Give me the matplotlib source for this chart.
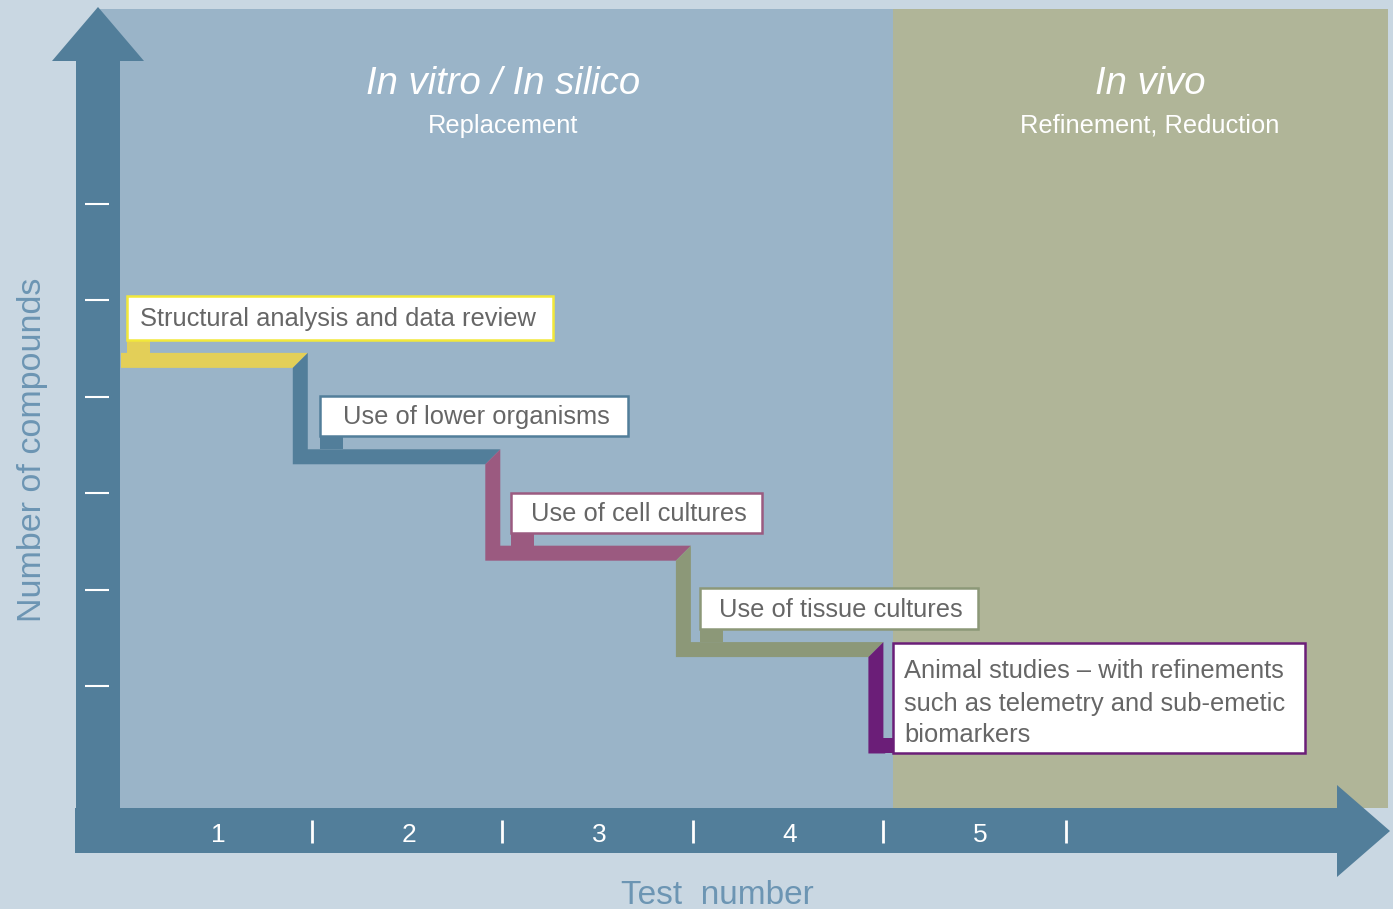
import matplotlib
matplotlib.use('Agg')
import matplotlib.pyplot as plt
from matplotlib.patches import Polygon, Rectangle

plt.rcParams['font.family'] = ['Liberation Sans', 'DejaVu Sans']

# data
test_labels = ['1', '2', '3', '4', '5']
test_bounds = [1, 2, 3, 4, 4.96]          # separators on the test axis
compound_ticks = [1, 2, 3, 4, 5, 6]
step_labels = ['Structural analysis and data review',
               'Use of lower organisms',
               'Use of cell cultures',
               'Use of tissue cultures',
               'Animal studies \u2013 with refinements\nsuch as telemetry and sub-emetic\nbiomarkers']
step_start = [0, 0.98, 1.99, 2.99, 4.0]    # test position where each step drops
step_levels = [4.3, 3.3, 2.3, 1.3, 0.3]    # number of compounds (bottom of each bar)

# styles
bar_colors = ['#E3CF58', '#527E9A', '#9B5A80', '#8C9878', '#6B1E78']
edge_colors = ['#F2E83A', '#527E9A', '#9B5A80', '#8C9878', '#6B1E78']
bg = '#C9D7E2'
blue_panel = '#9AB4C8'
olive_panel = '#B0B598'
arrow_col = '#527E9A'
label_col = '#6C95B3'
text_col = '#666666'

# pixel layout
W, H = 1393, 909
X0, XS = 121.0, 190.6     # pixel of test 0, pixels per test
Y0, YS = 782.4, 96.4      # pixel row of 0 compounds, pixels per tick
box_left_px = [127, 320, 511, 700, 893]
box_w_px = [426, 308, 251, 278, 412]
box_h_px = [44, 40, 40, 41, 110]
text_dx_px = [-2.5, 2, 2, 2]
dy_txt = 2.5              # nudge text down a little


def px(x):
    return (x - X0) / XS


def py(y):
    return (Y0 - y) / YS


fig = plt.figure(figsize=(W / 100, H / 100), dpi=100)
fig.patch.set_facecolor(bg)
ax = fig.add_axes([0, 0, 1, 1])
ax.set_xlim(px(0), px(W))
ax.set_ylim(py(H), py(0))
ax.axis('off')

# panels
ax.add_patch(Rectangle((px(100), py(808)), px(893) - px(100), py(9) - py(808),
                       facecolor=blue_panel, edgecolor='none'))
ax.add_patch(Rectangle((px(893), py(808)), px(1388) - px(893), py(9) - py(808),
                       facecolor=olive_panel, edgecolor='none'))

# arrows
up = [(76, 853), (76, 61), (52, 61), (98, 7), (144, 61), (120, 61), (120, 853)]
right = [(75, 853), (75, 808), (1337, 808), (1337, 785), (1390, 831), (1337, 877), (1337, 853)]
for pts in (up, right):
    ax.add_patch(Polygon([(px(a), py(b)) for a, b in pts], closed=True,
                         facecolor=arrow_col, edgecolor='none'))

# y ticks
for t in compound_ticks:
    ax.plot([px(85), px(109)], [t, t], color='white', lw=1.5, solid_capstyle='butt')

# x separators and labels
for b in test_bounds:
    ax.plot([b, b], [py(820), py(843)], color='white', lw=2, solid_capstyle='butt')
for i, lab in enumerate(test_labels):
    ax.text(i + 0.51, py(832 + dy_txt), lab, color='white', fontsize=19,
            ha='center', va='center')

# steps
tx = 15 / XS
ty = 15 / YS
for k, L in enumerate(step_levels):
    s = step_start[k]
    e = step_start[k + 1] if k < len(step_levels) - 1 else px(900)
    if k == 0:
        pts = [(s, L), (s, L + ty), (e, L + ty), (e - tx, L)]
    else:
        Lp = step_levels[k - 1]
        pts = [(s, Lp + ty), (s, L + ty), (e, L + ty), (e - tx, L), (s - tx, L), (s - tx, Lp)]
    ax.add_patch(Polygon(pts, closed=True, facecolor=bar_colors[k], edgecolor='none', zorder=3))

# boxes with tabs
for k, L in enumerate(step_levels):
    left = box_left_px[k]
    if k < len(step_levels) - 1:
        bottom = L + ty + 13 / YS
        ax.add_patch(Rectangle((px(left), L + ty), 23 / XS, 13 / YS,
                               facecolor=bar_colors[k], edgecolor='none', zorder=3))
    else:
        bottom = L
        ax.add_patch(Rectangle((px(883), L), 12 / XS, ty,
                               facecolor=bar_colors[k], edgecolor='none', zorder=3))
    wdt = box_w_px[k] / XS
    hgt = box_h_px[k] / YS
    ax.add_patch(Rectangle((px(left), bottom), wdt, hgt, facecolor='white',
                           edgecolor=edge_colors[k], lw=1.8, zorder=4))
    if k < len(step_levels) - 1:
        ax.text(px(left) + wdt / 2 + text_dx_px[k] / XS, bottom + hgt / 2 - 1 / YS,
                step_labels[k], color=text_col, fontsize=18.4,
                ha='center', va='center', zorder=5)
    else:
        for j, line in enumerate(step_labels[k].split('\n')):
            ax.text(px(left + 11), py(670 + 32 * j + 1.5), line, color=text_col,
                    fontsize=18.4, ha='left', va='center', zorder=5)

# headings
ax.text(px(503), py(82 + dy_txt), 'In vitro / In silico', color='white', fontsize=27.5,
        style='italic', ha='center', va='center')
ax.text(px(503), py(123 + dy_txt), 'Replacement', color='white', fontsize=18.4,
        ha='center', va='center')
ax.text(px(1150), py(82 + dy_txt), 'In vivo', color='white', fontsize=27.5,
        style='italic', ha='center', va='center')
ax.text(px(1150), py(123 + dy_txt), 'Refinement, Reduction', color='white', fontsize=18.4,
        ha='center', va='center')

# axis titles
ax.text(px(33), py(450), 'Number of compounds', color=label_col, fontsize=24.5,
        rotation=90, ha='center', va='center')
ax.text(px(717), py(893 + dy_txt), 'Test  number', color=label_col, fontsize=24,
        ha='center', va='center')

fig.savefig('out.png', dpi=100, facecolor=bg)
